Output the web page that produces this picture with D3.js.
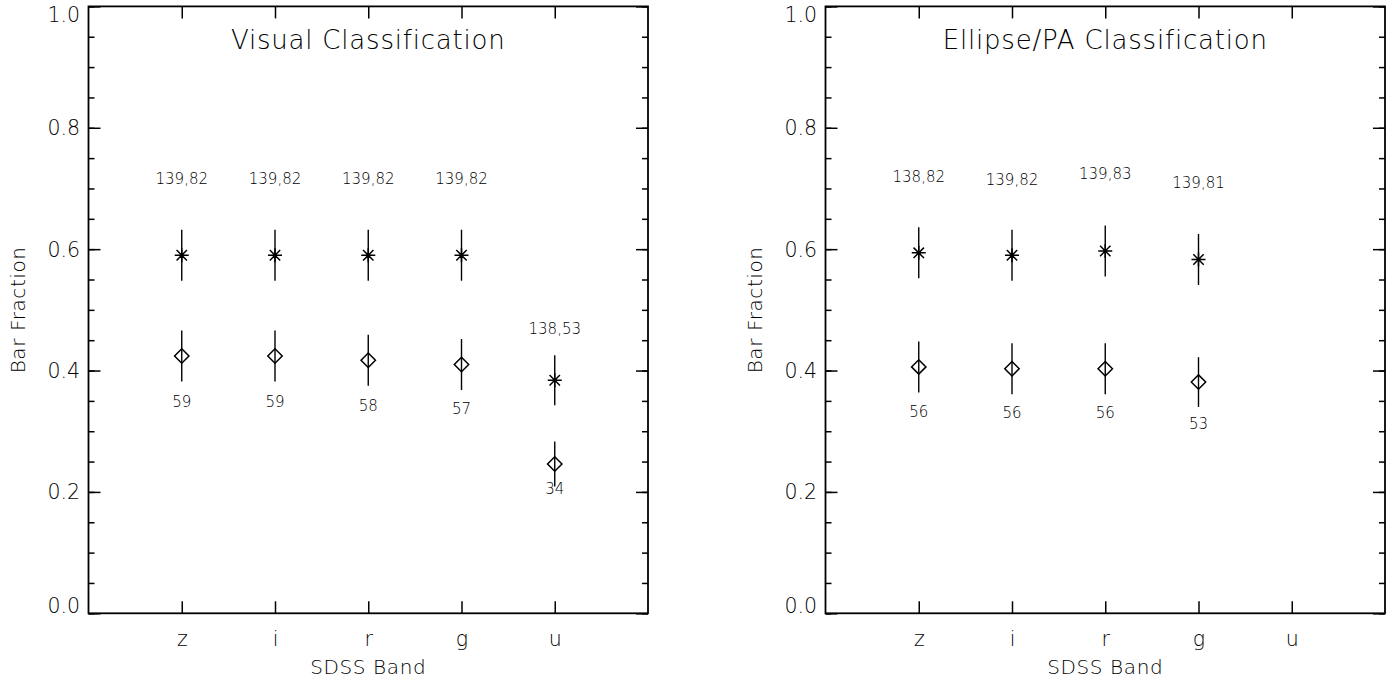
<!DOCTYPE html>
<html>
<head>
<meta charset="utf-8">
<script src="https://cdn.jsdelivr.net/npm/d3@7"></script>
<style>
  html, body { margin: 0; padding: 0; background: #fff; }
  svg { display: block; }
  text { font-family: "DejaVu Sans", "Liberation Sans", sans-serif; font-weight: 200; fill: #000; }
</style>
</head>
<body>
<svg id="chart" width="1393" height="679"></svg>
<script>
// SDSS bands along the x axis
const bands = ["z", "i", "r", "g", "u"];
const yTicks = [0.0, 0.2, 0.4, 0.6, 0.8, 1.0];
const yTickLabels = ["0.0", "0.2", "0.4", "0.6", "0.8", "1.0"];

// Visual classification: asterisks (all bars) and diamonds (strong bars)
const visualStarFrac = [0.590, 0.590, 0.590, 0.590, 0.384];
const visualStarErr = [0.042, 0.042, 0.042, 0.042, 0.041];
const visualStarLabels = ["139,82", "139,82", "139,82", "139,82", "138,53"];
const visualStarLabelAt = [0.716, 0.716, 0.716, 0.716, 0.469];
const visualDiamondFrac = [0.424, 0.424, 0.417, 0.410, 0.246];
const visualDiamondErr = [0.042, 0.042, 0.042, 0.042, 0.037];
const visualDiamondLabels = ["59", "59", "58", "57", "34"];
const visualDiamondLabelAt = [0.349, 0.349, 0.342, 0.338, 0.206];

// Ellipse/PA classification (no u-band measurements)
const ellipseStarFrac = [0.594, 0.590, 0.597, 0.583];
const ellipseStarErr = [0.042, 0.042, 0.042, 0.042];
const ellipseStarLabels = ["138,82", "139,82", "139,83", "139,81"];
const ellipseStarLabelAt = [0.719, 0.715, 0.724, 0.709];
const ellipseDiamondFrac = [0.406, 0.403, 0.403, 0.381];
const ellipseDiamondErr = [0.042, 0.042, 0.042, 0.041];
const ellipseDiamondLabels = ["56", "56", "56", "53"];
const ellipseDiamondLabelAt = [0.332, 0.330, 0.330, 0.313];

const panels = [
  { title: "Visual Classification", left: 88.5, right: 648,
    star: visualStarFrac, starErr: visualStarErr, starLabels: visualStarLabels, starLabelAt: visualStarLabelAt,
    dia: visualDiamondFrac, diaErr: visualDiamondErr, diaLabels: visualDiamondLabels, diaLabelAt: visualDiamondLabelAt },
  { title: "Ellipse/PA Classification", left: 825.5, right: 1385,
    star: ellipseStarFrac, starErr: ellipseStarErr, starLabels: ellipseStarLabels, starLabelAt: ellipseStarLabelAt,
    dia: ellipseDiamondFrac, diaErr: ellipseDiamondErr, diaLabels: ellipseDiamondLabels, diaLabelAt: ellipseDiamondLabelAt }
];

const plotTop = 6.4, plotBottom = 613.3;
const svg = d3.select("#chart");

// IDL-style plot symbols as custom d3 symbol types
const asterisk = {
  draw(ctx, size) {
    const r = 7, d = 5.2;
    ctx.moveTo(-r, 0); ctx.lineTo(r, 0);
    ctx.moveTo(0, -r); ctx.lineTo(0, r);
    ctx.moveTo(-d, -d); ctx.lineTo(d, d);
    ctx.moveTo(-d, d); ctx.lineTo(d, -d);
  }
};
const diamond = {
  draw(ctx, size) {
    const r = 7.2;
    ctx.moveTo(0, -r); ctx.lineTo(r, 0); ctx.lineTo(0, r); ctx.lineTo(-r, 0); ctx.closePath();
  }
};

panels.forEach(p => {
  const x = d3.scaleLinear().domain([0, 6]).range([p.left, p.right]);
  const y = d3.scaleLinear().domain([0, 1]).range([plotBottom, plotTop]);
  const g = svg.append("g");
  const bandIdx = bands.map((b, i) => i + 1);

  const styleAxis = sel => {
    sel.select(".domain").remove();
    sel.selectAll(".tick line").attr("stroke", "#000").attr("stroke-width", 1.5);
  };

  // minor y ticks (every 0.05), both sides
  const minor = d3.range(0, 1.0001, 0.05);
  g.append("g").attr("transform", `translate(${p.left},0)`)
    .call(d3.axisLeft(y).tickValues(minor).tickSize(-6).tickFormat(""))
    .call(styleAxis);
  g.append("g").attr("transform", `translate(${p.right},0)`)
    .call(d3.axisRight(y).tickValues(minor).tickSize(-6).tickFormat(""))
    .call(styleAxis);

  // major y ticks with labels on the left
  const yAxis = g.append("g").attr("transform", `translate(${p.left},0)`)
    .call(d3.axisLeft(y).tickValues(yTicks).tickSize(-12).tickPadding(8.5)
      .tickFormat((d, i) => yTickLabels[i]))
    .call(styleAxis);
  yAxis.selectAll(".tick text")
    .attr("font-size", 20.5)
    .attr("font-family", null)
    .attr("dy", d => d === 1 ? "0.72em" : (d === 0 ? "-0.05em" : "0.34em"));
  g.append("g").attr("transform", `translate(${p.right},0)`)
    .call(d3.axisRight(y).tickValues(yTicks).tickSize(-12).tickFormat(""))
    .call(styleAxis);

  // x ticks at each band, top and bottom
  const xAxis = g.append("g").attr("transform", `translate(0,${plotBottom})`)
    .call(d3.axisBottom(x).tickValues(bandIdx).tickSize(-12).tickPadding(18.5)
      .tickFormat((d, i) => bands[i]))
    .call(styleAxis);
  xAxis.selectAll(".tick text").attr("font-size", 20.5).attr("font-family", null);
  g.append("g").attr("transform", `translate(0,${plotTop})`)
    .call(d3.axisTop(x).tickValues(bandIdx).tickSize(-12).tickFormat(""))
    .call(styleAxis);

  // frame
  g.append("rect")
    .attr("x", p.left).attr("y", plotTop)
    .attr("width", p.right - p.left).attr("height", plotBottom - plotTop)
    .attr("fill", "none").attr("stroke", "#000").attr("stroke-width", 1.8);

  // titles
  g.append("text")
    .attr("x", (p.left + p.right) / 2).attr("y", 49.3)
    .attr("text-anchor", "middle").attr("font-size", 26).attr("letter-spacing", 0.8)
    .text(p.title);
  g.append("text")
    .attr("x", (p.left + p.right) / 2).attr("y", 674)
    .attr("text-anchor", "middle").attr("font-size", 20).attr("letter-spacing", 0.6)
    .text("SDSS Band");
  g.append("text")
    .attr("transform", `translate(${p.left - 64},${(plotTop + plotBottom) / 2}) rotate(-90)`)
    .attr("text-anchor", "middle").attr("font-size", 20).attr("letter-spacing", 0.6)
    .text("Bar Fraction");

  // series drawing: error bar, symbol, count label
  const drawSeries = (vals, errs, labels, labelAt, symbolType) => {
    const pts = vals.map((v, i) => ({ v, e: errs[i], lab: labels[i], la: labelAt[i], xi: i + 1 }));
    g.selectAll(null).data(pts).join("line")
      .attr("x1", d => x(d.xi)).attr("x2", d => x(d.xi))
      .attr("y1", d => y(d.v - d.e)).attr("y2", d => y(d.v + d.e))
      .attr("stroke", "#000").attr("stroke-width", 1.4);
    g.selectAll(null).data(pts).join("path")
      .attr("transform", d => `translate(${x(d.xi)},${y(d.v)})`)
      .attr("d", d3.symbol().type(symbolType))
      .attr("fill", "none").attr("stroke", "#000").attr("stroke-width", 1.5);
    g.selectAll(null).data(pts).join("text")
      .attr("x", d => x(d.xi)).attr("y", d => y(d.la))
      .attr("dy", "0.36em")
      .attr("text-anchor", "middle").attr("font-size", 15)
      .text(d => d.lab);
  };

  drawSeries(p.star, p.starErr, p.starLabels, p.starLabelAt, asterisk);
  drawSeries(p.dia, p.diaErr, p.diaLabels, p.diaLabelAt, diamond);
});
</script>
</body>
</html>
